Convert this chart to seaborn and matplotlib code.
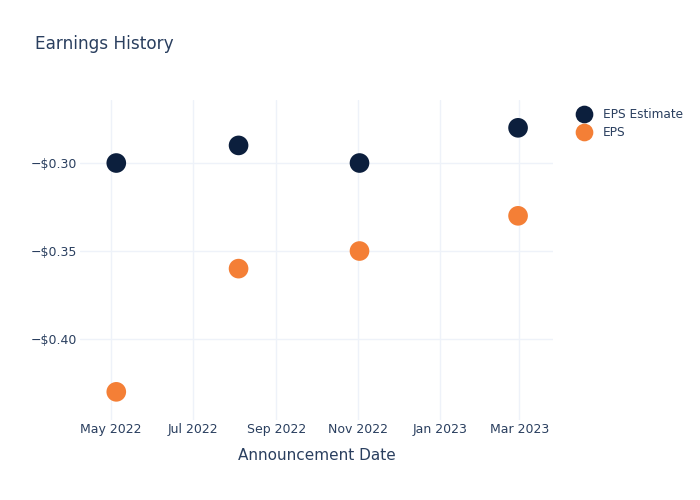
import matplotlib
matplotlib.use("Agg")
import matplotlib.pyplot as plt
import matplotlib.dates as mdates
import matplotlib.ticker as mticker
import seaborn as sns
import pandas as pd

dates = ["2022-05-05", "2022-08-04", "2022-11-02", "2023-02-28"]
eps_estimate = [-0.30, -0.29, -0.30, -0.28]
eps_actual = [-0.43, -0.36, -0.35, -0.33]
series_names = ["EPS Estimate", "EPS"]
colors = ["#0c1f3d", "#f47f36"]

df = pd.DataFrame({
    "date": pd.to_datetime(dates * 2),
    "value": eps_estimate + eps_actual,
    "series": [series_names[0]] * len(dates) + [series_names[1]] * len(dates),
})

sns.set_theme(style="white")
plt.rcParams['font.family'] = ['DejaVu Sans']
text_color = "#2a3f5f"

fig = plt.figure(figsize=(7, 5), dpi=100)
ax = fig.add_axes([80/700, 1 - 420/500, (553-80)/700, (420-100)/500])

sns.scatterplot(data=df, x="date", y="value", hue="series", palette=colors,
                s=200, edgecolor="none", ax=ax, zorder=3)

ax.set_xlim(pd.Timestamp("2022-04-08"), pd.Timestamp("2023-03-26"))
ax.set_ylim(-0.446, -0.2642)
ax.set_yticks([-0.40, -0.35, -0.30])
ax.yaxis.set_major_formatter(mticker.FuncFormatter(lambda v, p: "\u2212$%.2f" % abs(v)))
ax.xaxis.set_major_locator(mdates.MonthLocator(bymonth=[1, 3, 5, 7, 9, 11]))
ax.xaxis.set_major_formatter(mdates.DateFormatter("%b %Y"))

ax.grid(True, color="#eef2f9", linewidth=1)
ax.set_axisbelow(True)
for s in ax.spines.values():
    s.set_visible(False)
ax.tick_params(axis="x", length=0, labelsize=9, colors=text_color, pad=2)
ax.tick_params(axis="y", length=0, labelsize=9, colors=text_color, pad=2)

ax.set_xlabel("Announcement Date", fontsize=11, color=text_color, labelpad=9)
ax.set_ylabel("")
fig.text(35/700, 1 - 44/500, "Earnings History", fontsize=12.2, color=text_color, va="center")

leg = ax.legend(loc="upper left", bbox_to_anchor=(1.029, 0.99), frameon=False,
                fontsize=8.7, labelcolor=text_color, handletextpad=0.6,
                borderaxespad=0, labelspacing=0.45, markerscale=0.9)

fig.savefig("out.png", dpi=100)
